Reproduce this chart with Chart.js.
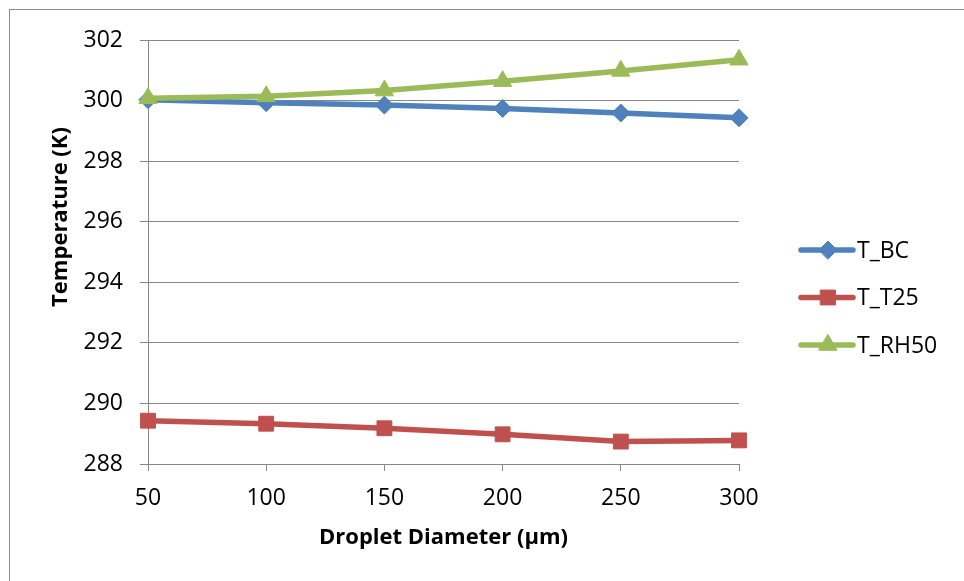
<!DOCTYPE html>
<html>
<head>
<meta charset="utf-8">
<title>Temperature vs droplet diameter</title>
<script src="https://cdn.jsdelivr.net/npm/chart.js@4.4.1/dist/chart.umd.min.js"></script>
<style>
  html, body { margin: 0; padding: 0; background: #fff; }
  #wrap { width: 964px; height: 581px; }
</style>
</head>
<body>
<div id="wrap"><canvas id="c" width="964" height="581"></canvas></div>
<script>
// droplet diameters (µm) and temperatures (K)
const diam  = [50, 100, 150, 200, 250, 300]
const tBC   = [300.03, 299.93, 299.85, 299.74, 299.59, 299.43]
const tT25  = [289.43, 289.33, 289.18, 288.98, 288.74, 288.78]
const tRH50 = [300.08, 300.14, 300.33, 300.64, 300.98, 301.35]
const yTicks = [288, 290, 292, 294, 296, 298, 300, 302]

const FONT = '"Open Sans", "Liberation Sans", sans-serif'
const GRID = '#878787'

const pts = arr => diam.map((d, i) => ({ x: d, y: arr[i] }))

const series = [
  { label: 'T_BC',  data: tBC,   color: '#4F81BD', style: 'rectRot',  r: 9,  order: 3 },
  { label: 'T_T25', data: tT25,  color: '#C0504D', style: 'rect',     r: 10.5, order: 2 },
  { label: 'T_RH50', data: tRH50, color: '#9BBB59', style: 'triangle', r: 10.5, order: 1 }
]

// white page + thin frame
const frame = {
  id: 'frame',
  beforeDraw(chart) {
    const ctx = chart.ctx
    ctx.save()
    ctx.fillStyle = '#fff'
    ctx.fillRect(0, 0, chart.width, chart.height)
    ctx.strokeStyle = '#8c8c8c'
    ctx.lineWidth = 1
    ctx.strokeRect(9.5, 9.5, 1200, 1200)
    ctx.restore()
  }
}

// y title sits a bit above the plot centre, legend on the right
const extras = {
  id: 'extras',
  afterDraw(chart) {
    const ctx = chart.ctx
    ctx.save()
    ctx.fillStyle = '#000'
    ctx.font = 'bold 22px ' + FONT
    ctx.textAlign = 'center'
    ctx.textBaseline = 'middle'
    ctx.translate(61, 217)
    ctx.rotate(-Math.PI / 2)
    ctx.fillText('Temperature (K)', 0, 0)
    ctx.restore()

    const rowY = [250, 297.5, 345]
    series.forEach((s, i) => {
      const y = rowY[i]
      ctx.save()
      ctx.strokeStyle = s.color
      ctx.lineWidth = 5.5
      ctx.lineCap = 'round'
      ctx.beginPath()
      ctx.moveTo(801, y)
      ctx.lineTo(853, y)
      ctx.stroke()
      ctx.fillStyle = s.color
      ctx.strokeStyle = s.color
      ctx.lineWidth = 1
      Chart.helpers.drawPoint(ctx, { pointStyle: s.style, radius: s.r, rotation: 0, borderWidth: 1 }, 828, y)
      ctx.fillStyle = '#000'
      ctx.font = '23px ' + FONT
      ctx.textAlign = 'left'
      ctx.textBaseline = 'middle'
      ctx.fillText(s.label, 857, y + 1)
      ctx.restore()
    })
  }
}

new Chart(document.getElementById('c'), {
  type: 'line',
  data: {
    datasets: series.map(s => ({
      label: s.label,
      data: pts(s.data),
      borderColor: s.color,
      backgroundColor: s.color,
      borderWidth: 5.5,
      pointStyle: s.style,
      pointRadius: s.r,
      pointHoverRadius: s.r,
      pointBorderWidth: 1,
      pointBackgroundColor: s.color,
      pointBorderColor: s.color,
      tension: 0,
      clip: false,
      order: s.order
    }))
  },
  options: {
    responsive: false,
    animation: false,
    layout: { padding: { left: 20, top: 40, right: 225, bottom: 0 } },
    plugins: { legend: { display: false }, tooltip: { enabled: false } },
    scales: {
      x: {
        type: 'linear',
        min: 50, max: 300,
        afterFit: s => { s.height = 117 },
        ticks: { stepSize: 50, color: '#000', font: { family: FONT, size: 23 }, padding: 14, maxRotation: 0 },
        grid: { display: true, drawOnChartArea: false, drawTicks: true, tickLength: 7, color: GRID },
        border: { display: true, color: GRID, width: 1 },
        title: { display: true, text: 'Droplet Diameter (µm)', color: '#000', font: { family: FONT, size: 22, weight: 'bold' }, padding: { top: 0, bottom: 30 } }
      },
      y: {
        min: 288, max: 302,
        afterFit: s => { s.width = 128 },
        afterBuildTicks: s => { s.ticks = yTicks.map(v => ({ value: v })) },
        ticks: { color: '#000', font: { family: FONT, size: 23 }, padding: 17 },
        grid: { color: GRID, lineWidth: 1, drawTicks: true, tickLength: 8 },
        border: { display: true, color: GRID, width: 1 }
      }
    }
  },
  plugins: [frame, extras]
})
</script>
</body>
</html>
